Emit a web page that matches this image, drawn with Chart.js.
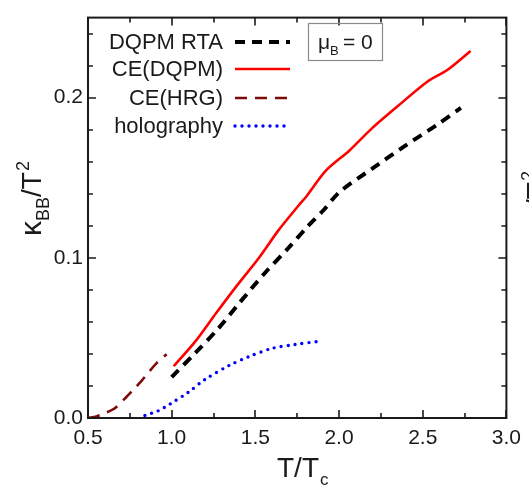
<!DOCTYPE html>
<html>
<head>
<meta charset="utf-8">
<script src="https://cdn.jsdelivr.net/npm/chart.js@4.4.1/dist/chart.umd.min.js"></script>
<style>
  html, body { margin: 0; padding: 0; background: #fff; }
  #wrap { width: 529px; height: 488px; }
</style>
</head>
<body>
<div id="wrap"><canvas id="c" width="529" height="488"></canvas></div>
<script>
// series (x = T/Tc, y = kappa_BB / T^2)
const rtaX = [1.0, 1.139, 1.276, 1.404, 1.561, 1.698, 1.816, 1.904, 2.002, 2.198, 2.394, 2.59, 2.728];
const rtaY = [0.0255, 0.0404, 0.0556, 0.0718, 0.091, 0.1062, 0.1200, 0.1294, 0.1410, 0.1557, 0.1699, 0.1834, 0.1936];

const ceDqpmX = [1.012, 1.139, 1.267, 1.384, 1.522, 1.639, 1.757, 1.806, 1.924, 2.061, 2.198, 2.355, 2.531, 2.649, 2.786];
const ceDqpmY = [0.0323, 0.0475, 0.0657, 0.0819, 0.1001, 0.1173, 0.1325, 0.1385, 0.1547, 0.1669, 0.181, 0.1951, 0.2103, 0.2174, 0.2291];

const ceHrgX = [0.5, 0.55, 0.6, 0.66, 0.72, 0.77, 0.82, 0.86, 0.91, 0.97];
const ceHrgY = [0.0, 0.001, 0.003, 0.0061, 0.0121, 0.0176, 0.0232, 0.0283, 0.0343, 0.0398];

const holoX = [0.84, 0.92, 0.99, 1.1, 1.198, 1.345, 1.463, 1.6, 1.737, 1.884];
const holoY = [0.0016, 0.0045, 0.0087, 0.0161, 0.0240, 0.0329, 0.0384, 0.0435, 0.0459, 0.0479];

const xTickVals = [0.5, 1.0, 1.5, 2.0, 2.5, 3.0];
const yTickVals = [0.0, 0.1, 0.2];

const FONT = '"Liberation Sans", Arial, sans-serif';

function pts(xs, ys) {
  return xs.map((x, i) => ({ x: x, y: ys[i] }));
}

// frame, inward ticks on all four sides, axis titles, legend and annotation box
const decor = {
  id: 'decor',
  afterDraw(chart) {
    const ctx = chart.ctx;
    const a = chart.chartArea;
    const xs = chart.scales.x, ys = chart.scales.y;
    ctx.save();
    ctx.strokeStyle = '#1a1a1a';
    ctx.lineWidth = 2;
    ctx.strokeRect(a.left, a.top, a.right - a.left, a.bottom - a.top);

    ctx.lineWidth = 1.6;
    ctx.beginPath();
    for (let v = 0.5; v <= 3.0001; v += 0.25) {
      const px = Math.round(xs.getPixelForValue(v));
      const len = Math.abs(v * 2 - Math.round(v * 2)) < 1e-6 ? 8 : 5;
      ctx.moveTo(px, a.bottom); ctx.lineTo(px, a.bottom - len);
      ctx.moveTo(px, a.top); ctx.lineTo(px, a.top + len);
    }
    for (let k = 0; k <= 12; k++) {
      const v = k * 0.02;
      const py = Math.round(ys.getPixelForValue(v));
      const len = k % 5 === 0 ? 8 : 5;
      ctx.moveTo(a.left, py); ctx.lineTo(a.left + len, py);
      ctx.moveTo(a.right, py); ctx.lineTo(a.right - len, py);
    }
    ctx.stroke();

    // x title T/T_c
    ctx.fillStyle = '#1a1a1a';
    ctx.textBaseline = 'alphabetic';
    ctx.font = '28px ' + FONT;
    ctx.textAlign = 'left';
    const xt = 'T/T';
    const xw = ctx.measureText(xt).width;
    const xx = 298 - xw / 2;
    ctx.fillText(xt, xx, 477);
    ctx.font = '17px ' + FONT;
    ctx.fillText('c', xx + xw + 1, 485);

    // y title kappa_BB / T^2 (and the clipped one of the neighbouring panel)
    function yTitle(bx, by) {
      ctx.save();
      ctx.translate(bx, by);
      ctx.rotate(-Math.PI / 2);
      ctx.textAlign = 'left';
      let x = 0;
      ctx.font = '30px ' + FONT;
      ctx.fillText('\u03ba', x, 0); x += ctx.measureText('\u03ba').width;
      ctx.font = '18px ' + FONT;
      ctx.fillText('BB', x, 8); x += ctx.measureText('BB').width;
      ctx.font = '28px ' + FONT;
      ctx.fillText('/T', x, 0); x += ctx.measureText('/T').width;
      ctx.font = '18px ' + FONT;
      ctx.fillText('2', x + 1, -12);
      ctx.restore();
    }
    yTitle(41, 236);
    yTitle(546, 246);

    // legend: right-aligned text, line sample on the right
    const rows = [
      { ds: 0, y: 42 }, { ds: 1, y: 69 }, { ds: 2, y: 98 }, { ds: 3, y: 126 }
    ];
    ctx.font = '22px ' + FONT;
    ctx.textAlign = 'right';
    ctx.textBaseline = 'middle';
    rows.forEach(r => {
      const d = chart.data.datasets[r.ds];
      ctx.fillStyle = '#1a1a1a';
      ctx.fillText(d.label, 223, r.y + 1);
      ctx.save();
      ctx.strokeStyle = d.borderColor;
      ctx.lineWidth = d.borderWidth;
      ctx.setLineDash(d.borderDash || []);
      ctx.lineCap = d.borderCapStyle || 'butt';
      ctx.beginPath();
      ctx.moveTo(235, r.y); ctx.lineTo(290, r.y);
      ctx.stroke();
      ctx.restore();
    });

    // mu_B = 0 box
    ctx.strokeStyle = '#8a8a8a';
    ctx.lineWidth = 1.2;
    ctx.strokeRect(308.5, 23.5, 74, 37);
    ctx.fillStyle = '#1a1a1a';
    ctx.textAlign = 'left';
    ctx.textBaseline = 'alphabetic';
    ctx.font = '21px ' + FONT;
    ctx.fillText('\u03bc', 318, 49);
    ctx.font = '13px ' + FONT;
    ctx.fillText('B', 330, 55);
    ctx.font = '21px ' + FONT;
    ctx.fillText('= 0', 343, 49);
    ctx.restore();
  }
};

new Chart(document.getElementById('c').getContext('2d'), {
  type: 'scatter',
  data: {
    datasets: [
      {
        label: 'DQPM RTA',
        data: pts(rtaX, rtaY),
        borderColor: '#000000',
        borderWidth: 4,
        borderDash: [10, 7],
        showLine: true, pointRadius: 0, tension: 0.3
      },
      {
        label: 'CE(DQPM)',
        data: pts(ceDqpmX, ceDqpmY),
        borderColor: '#ff0000',
        borderWidth: 2.6,
        showLine: true, pointRadius: 0, tension: 0.3
      },
      {
        label: 'CE(HRG)',
        data: pts(ceHrgX, ceHrgY),
        borderColor: '#7f0a0a',
        borderWidth: 2.6,
        borderDash: [12, 8],
        showLine: true, pointRadius: 0, tension: 0.3
      },
      {
        label: 'holography',
        data: pts(holoX, holoY),
        borderColor: '#0000ff',
        borderWidth: 3.4,
        borderDash: [0, 7],
        borderCapStyle: 'round',
        showLine: true, pointRadius: 0, tension: 0.3
      }
    ]
  },
  options: {
    responsive: false,
    animation: false,
    layout: { padding: { top: 6, right: 16, left: 0, bottom: 0 } },
    plugins: { legend: { display: false }, tooltip: { enabled: false } },
    scales: {
      x: {
        type: 'linear', min: 0.5, max: 3.0,
        afterBuildTicks: s => { s.ticks = xTickVals.map(v => ({ value: v })); },
        afterFit: s => { s.height = 70; },
        grid: { display: false, drawTicks: false },
        border: { display: false },
        ticks: {
          autoSkip: false, maxRotation: 0, padding: 8, color: '#1a1a1a',
          font: { size: 21, family: FONT },
          callback: v => Number(v).toFixed(1)
        }
      },
      y: {
        type: 'linear', min: 0, max: 0.25,
        afterBuildTicks: s => { s.ticks = yTickVals.map(v => ({ value: v })); },
        afterFit: s => { s.width = 88; },
        grid: { display: false, drawTicks: false },
        border: { display: false },
        ticks: {
          autoSkip: false, padding: 5, color: '#1a1a1a',
          font: { size: 21, family: FONT },
          callback: v => Number(v).toFixed(1)
        }
      }
    }
  },
  plugins: [decor]
});
</script>
</body>
</html>
